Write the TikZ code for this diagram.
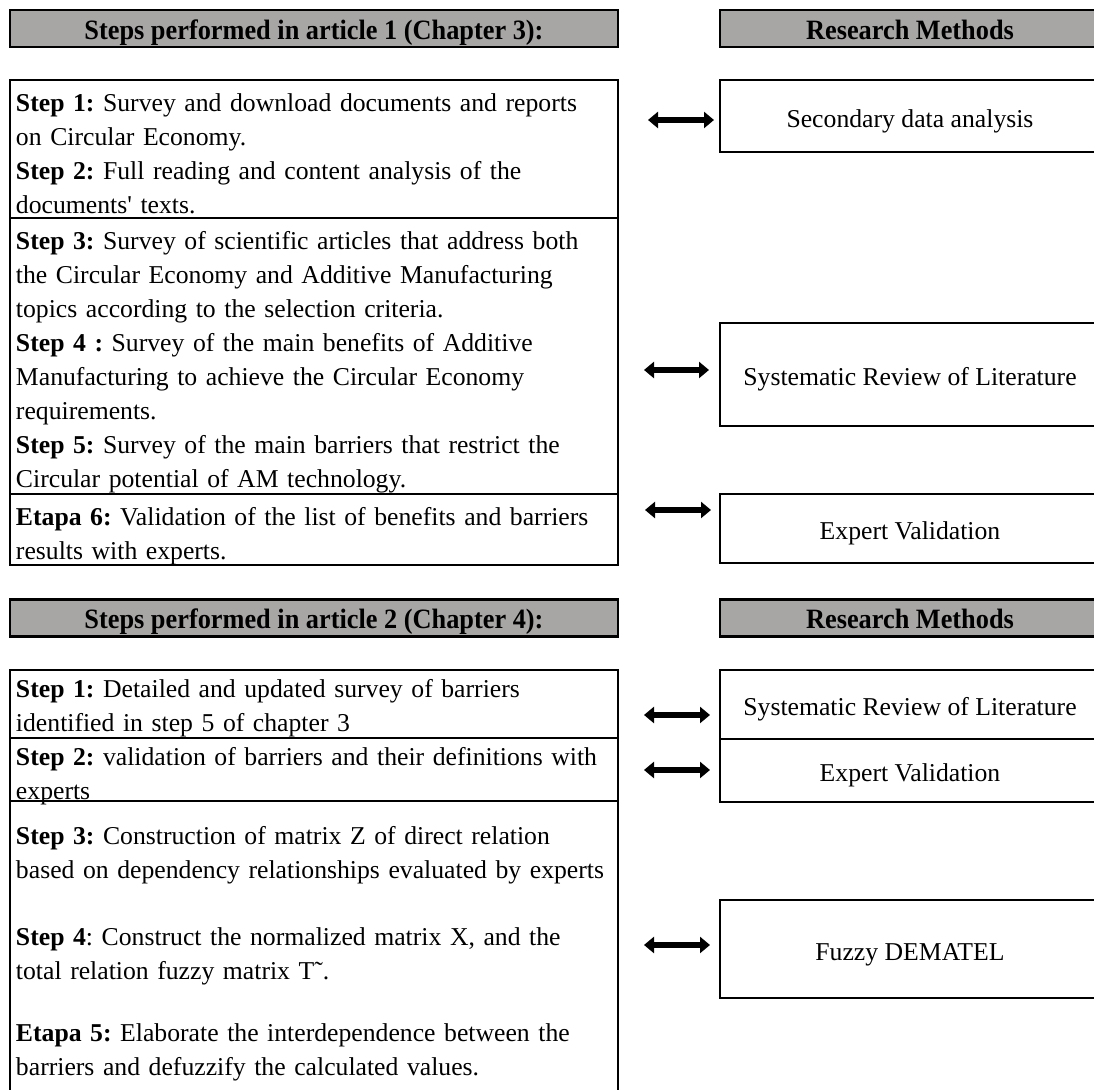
\documentclass[tikz,border=0pt]{standalone}
\usepackage{fontspec}
\setmainfont[Ligatures=TeXOff]{Liberation Serif}
\newfontfamily\hdrfont[Ligatures=TeXOff,FakeStretch=0.94]{Liberation Serif}
\usetikzlibrary{arrows.meta,positioning}

\definecolor{hdrgray}{RGB}{168,165,165}
\frenchspacing
\hyphenpenalty=10000

\begin{document}
\begin{tikzpicture}[x=0.5pt,y=-0.5pt,
  hdr/.style={draw, line width=1.2pt, fill=hdrgray, minimum height=18.5pt,
    font=\hdrfont\fontsize{14}{17}\selectfont\bfseries, inner sep=0pt,
    text height=13.5pt, text depth=2.5pt},
  stepbox/.style={draw, line width=1.1pt, minimum width=304pt, text width=298pt,
    inner xsep=3pt, inner ysep=0pt, align=left,
    font=\fontsize{12.85}{17}\selectfont},
  methbox/.style={draw, line width=1.1pt, minimum width=190pt, inner sep=0pt,
    text height=15pt, text depth=3.5pt, font=\fontsize{12.85}{17}\selectfont},
  biarrow/.style={line width=3.4pt, {Triangle[length=5pt,width=8pt]}-{Triangle[length=5pt,width=8pt]}}]
\useasboundingbox (0,0) rectangle (1094,1090);
\clip (0,0) rectangle (1094,1090);

% article 1
\node[hdr, minimum width=304pt] (h1) at (314,28.5) {Steps performed in article 1 (Chapter 3):};
\node[hdr, minimum width=190pt] (r1) at (910,28.5) {Research Methods};

\node[stepbox, minimum height=69pt, text height=15.75pt, text depth=53.25pt] (s1a) at (314,149)
  {\textbf{Step 1:} Survey and download documents and reports\\
   on Circular Economy.\\
   \textbf{Step 2:} Full reading and content analysis of the\\
   documents' texts.};
\node[stepbox, minimum height=138pt, text height=15.75pt, text depth=122.25pt] (s1b) at (314,356)
  {\textbf{Step 3:} Survey of scientific articles that address both\\
   the Circular Economy and Additive Manufacturing\\
   topics according to the selection criteria.\\
   \textbf{Step 4 :} Survey of the main benefits of Additive\\
   Manufacturing to achieve the Circular Economy\\
   requirements.\\
   \textbf{Step 5:} Survey of the main barriers that restrict the\\
   Circular potential of AM technology.};
\node[stepbox, minimum height=35.5pt, text height=15.75pt, text depth=19.75pt] (s1c) at (314,529.5)
  {\textbf{Etapa 6:} Validation of the list of benefits and barriers\\
   results with experts.};

\node[methbox, minimum height=36pt] (m1a) at (910,116) {Secondary data analysis};
\node[methbox, minimum height=51.5pt] (m1b) at (910,374.5) {Systematic Review of Literature};
\node[methbox, minimum height=34.5pt] (m1c) at (910,528.5) {Expert Validation};

% article 2
\node[hdr, minimum width=304pt] (h2) at (314,618) {Steps performed in article 2 (Chapter 4):};
\node[hdr, minimum width=190pt] (r2) at (910,618) {Research Methods};

\node[stepbox, minimum height=34pt, text height=13.75pt, text depth=20.25pt] (s2a) at (314,704)
  {\textbf{Step 1:} Detailed and updated survey of barriers\\
   identified in step 5 of chapter 3};
\node[stepbox, minimum height=31.5pt, text height=13.75pt, text depth=17.75pt] (s2b) at (314,769.5)
  {\textbf{Step 2:} validation of barriers and their definitions with\\
   experts};
\node[stepbox, minimum height=147.5pt, text height=21.75pt, text depth=125.75pt] (s2c) at (314,948.5)
  {\textbf{Step 3:} Construction of matrix Z of direct relation\\
   based on dependency relationships evaluated by experts\\[16.5pt]
   \textbf{Step 4}: Construct the normalized matrix X, and the\\
   total relation fuzzy matrix T˜.\\[14pt]
   \textbf{Etapa 5:} Elaborate the interdependence between the\\
   barriers and defuzzify the calculated values.};

\node[methbox, minimum height=34.5pt] (m2a) at (910,704.5) {Systematic Review of Literature};
\node[methbox, minimum height=31.5pt] (m2b) at (910,770.5) {Expert Validation};
\node[methbox, minimum height=49pt] (m2c) at (910,949) {Fuzzy DEMATEL};

% two-way arrows between steps and methods
\foreach \n/\xa/\xb/\y in {1/648/714/120, 2/644/709/370, 3/645/711/510,
                           4/644/710/715, 5/644/710/770, 6/644/710/945}{
  \coordinate (al\n) at (\xa,\y);
  \coordinate (ar\n) at (\xb,\y);
  \draw[biarrow] (al\n) -- (ar\n);
}
\end{tikzpicture}
\end{document}
